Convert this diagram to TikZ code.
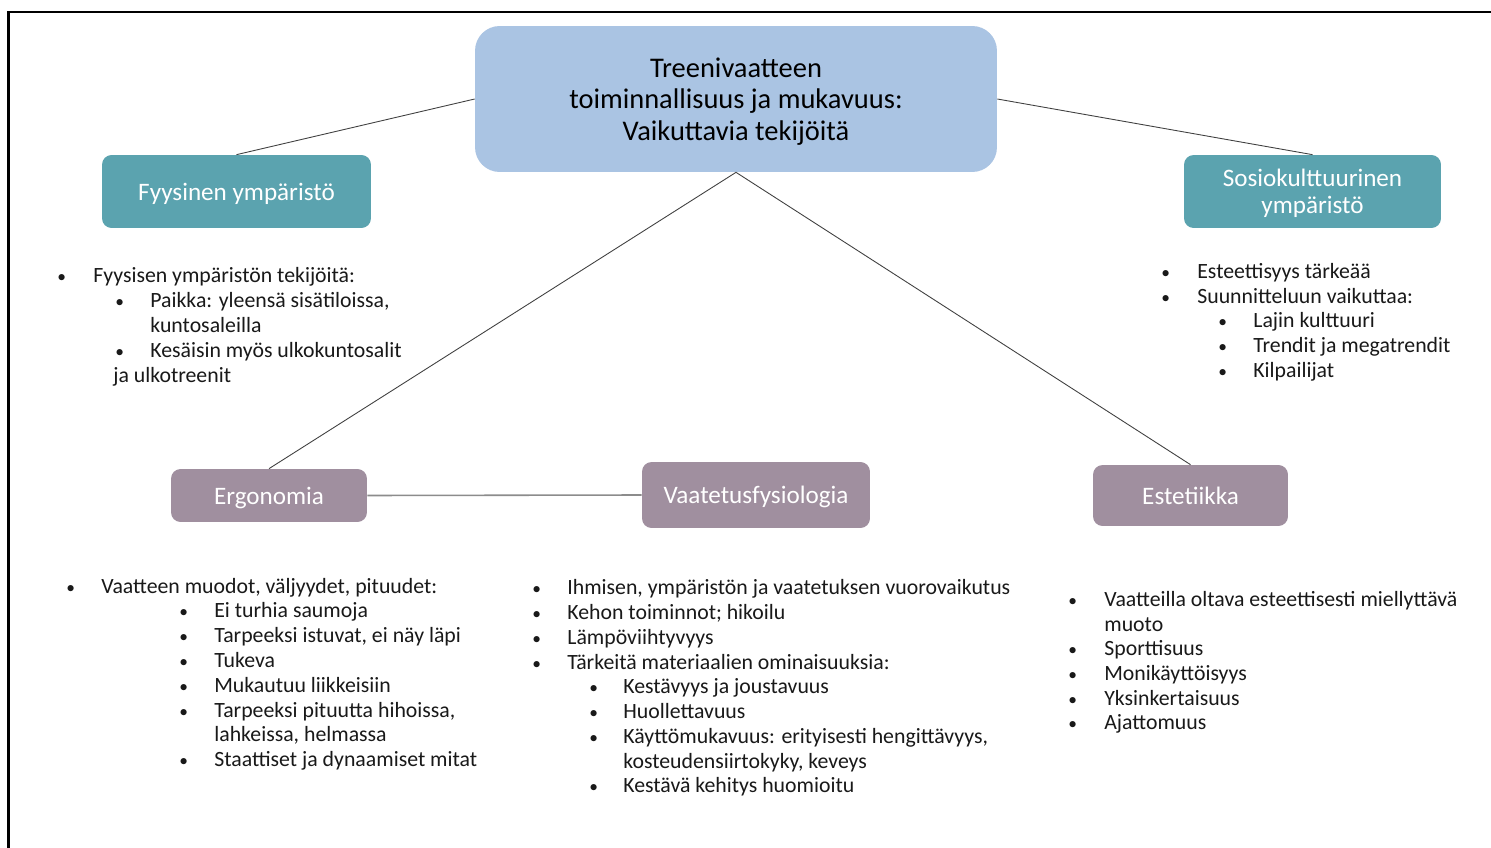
\documentclass[tikz,border=0pt]{standalone}
\usepackage{fontspec}
\setmainfont{Carlito}
\definecolor{topblue}{HTML}{AAC4E3}
\definecolor{envteal}{HTML}{5BA3AF}
\definecolor{areamauve}{HTML}{A08F9F}
\newcommand{\bul}{\scalebox{0.8}{\textbullet}}
\tikzset{
  topbox/.style={rectangle, rounded corners=14pt, fill=topblue, align=center, inner sep=0pt, font=\fontsize{16.2}{17.9}\selectfont},
  envbox/.style={rectangle, rounded corners=5.5pt, fill=envteal, text=white, align=center, inner sep=0pt, font=\fontsize{14.3}{15.9}\selectfont},
  areabox/.style={rectangle, rounded corners=5.5pt, fill=areamauve, text=white, align=center, inner sep=0pt, font=\fontsize{14.3}{15.9}\selectfont},
  item/.style={anchor=base west, inner sep=0pt, yshift=-1.2pt, font=\fontsize{12.4}{14}\selectfont, text=black!90},
  link/.style={draw=black!75, line width=0.5pt}
}
\begin{document}
\begin{tikzpicture}[x=0.02cm, y=-0.02cm]
        \useasboundingbox[fill=white] (0,0) rectangle (1491,848);
        \draw[line width=1.2pt] (8.5,848) -- (8.5,12) -- (1491,12);
        % boxes
        \node[topbox, minimum width=10.44cm, minimum height=2.92cm] (goal) at (736,99) {\rule{0pt}{14pt}Treenivaatteen\\toiminnallisuus ja mukavuus:\\Vaikuttavia tekijöitä};
        \node[envbox, minimum width=5.38cm, minimum height=1.46cm] (phys) at (236.5,191.5) {\rule{0pt}{12.6pt}Fyysinen ympäristö};
        \node[envbox, minimum width=5.14cm, minimum height=1.46cm] (socio) at (1312.5,191.5) {\rule{0pt}{12pt}Sosiokulttuurinen\\ympäristö};
        \node[areabox, minimum width=3.92cm, minimum height=1.06cm] (ergo) at (269,495.5) {\rule{0pt}{12.6pt}Ergonomia};
        \node[areabox, minimum width=4.56cm, minimum height=1.32cm] (physio) at (756,495) {\rule{0pt}{12.6pt}Vaatetusfysiologia};
        \node[areabox, minimum width=3.9cm, minimum height=1.22cm] (aesth) at (1190.5,495.5) {Estetiikka};
        % connectors
        \draw[link] (goal.west) -- (phys.north);
        \draw[link] (goal.east) -- (socio.north);
        \draw[link] (goal.south) -- (ergo.north);
        \draw[link] (goal.south) -- (aesth.north);
        \draw[draw=black!45, line width=0.9pt] (ergo.east) -- (physio.west);
        % physical environment
        \node[item] (p0) at (57,280) {\bul};
        \node[item] (p1) at (93,280) {Fyysisen ympäristön tekijöitä:};
        \node[item] (p2b) at (115,305) {\bul};
        \node[item] (p2) at (150,305) {Paikka: yleensä sisätiloissa,};
        \node[item] (p3) at (150,330) {kuntosaleilla};
        \node[item] (p4b) at (115,355) {\bul};
        \node[item] (p4) at (150,355) {Kesäisin myös ulkokuntosalit};
        \node[item] (p5) at (113,380) {ja ulkotreenit};
        % sociocultural environment
        \node[item] (s1b) at (1161,276) {\bul};
        \node[item] (s1) at (1197,276) {Esteettisyys tärkeää};
        \node[item] (s2b) at (1161,301) {\bul};
        \node[item] (s2) at (1197,301) {Suunnitteluun vaikuttaa:};
        \node[item] (s3b) at (1218,325) {\bul};
        \node[item] (s3) at (1253,325) {Lajin kulttuuri};
        \node[item] (s4b) at (1218,350) {\bul};
        \node[item] (s4) at (1253,350) {Trendit ja megatrendit};
        \node[item] (s5b) at (1218,375) {\bul};
        \node[item] (s5) at (1253,375) {Kilpailijat};
        % ergonomics
        \node[item] (e0b) at (66,591) {\bul};
        \node[item] (e0) at (101,591) {Vaatteen muodot, väljyydet, pituudet:};
        \node[item] (e1b) at (179,615) {\bul};
        \node[item] (e1) at (214,615) {Ei turhia saumoja};
        \node[item] (e2b) at (179,640) {\bul};
        \node[item] (e2) at (214,640) {Tarpeeksi istuvat, ei näy läpi};
        \node[item] (e3b) at (179,665) {\bul};
        \node[item] (e3) at (214,665) {Tukeva};
        \node[item] (e4b) at (179,690) {\bul};
        \node[item] (e4) at (214,690) {Mukautuu liikkeisiin};
        \node[item] (e5b) at (179,715) {\bul};
        \node[item] (e5) at (214,715) {Tarpeeksi pituutta hihoissa,};
        \node[item] (e6) at (214,739) {lahkeissa, helmassa};
        \node[item] (e7b) at (179,764) {\bul};
        \node[item] (e7) at (214,764) {Staattiset ja dynaamiset mitat};
        % clothing physiology
        \node[item] (v1b) at (532,592) {\bul};
        \node[item] (v1) at (567,592) {Ihmisen, ympäristön ja vaatetuksen vuorovaikutus};
        \node[item] (v2b) at (532,617) {\bul};
        \node[item] (v2) at (567,617) {Kehon toiminnot; hikoilu};
        \node[item] (v3b) at (532,642) {\bul};
        \node[item] (v3) at (567,642) {Lämpöviihtyvyys};
        \node[item] (v4b) at (532,667) {\bul};
        \node[item] (v4) at (567,667) {Tärkeitä materiaalien ominaisuuksia:};
        \node[item] (v5b) at (589,691) {\bul};
        \node[item] (v5) at (623,691) {Kestävyys ja joustavuus};
        \node[item] (v6b) at (589,716) {\bul};
        \node[item] (v6) at (623,716) {Huollettavuus};
        \node[item] (v7b) at (589,741) {\bul};
        \node[item] (v7) at (623,741) {Käyttömukavuus: erityisesti hengittävyys,};
        \node[item] (v8) at (623,766) {kosteudensiirtokyky, keveys};
        \node[item] (v9b) at (589,790) {\bul};
        \node[item] (v9) at (623,790) {Kestävä kehitys huomioitu};
        % aesthetics
        \node[item] (a1b) at (1068,604) {\bul};
        \node[item] (a1) at (1104,604) {Vaatteilla oltava esteettisesti miellyttävä};
        \node[item] (a2) at (1104,629) {muoto};
        \node[item] (a3b) at (1068,653) {\bul};
        \node[item] (a3) at (1104,653) {Sporttisuus};
        \node[item] (a4b) at (1068,678) {\bul};
        \node[item] (a4) at (1104,678) {Monikäyttöisyys};
        \node[item] (a5b) at (1068,703) {\bul};
        \node[item] (a5) at (1104,703) {Yksinkertaisuus};
        \node[item] (a6b) at (1068,727) {\bul};
        \node[item] (a6) at (1104,727) {Ajattomuus};
\end{tikzpicture}
\end{document}
